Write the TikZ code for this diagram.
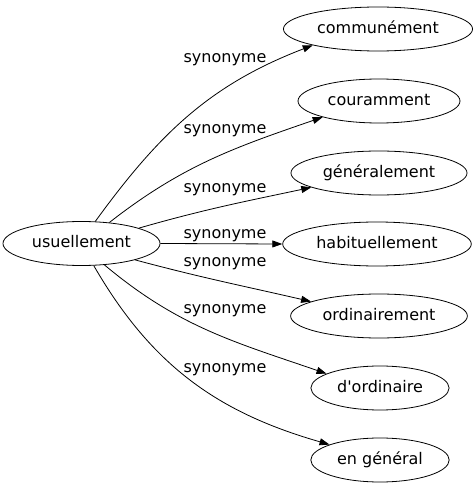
\documentclass[tikz,border=0pt]{standalone}
\usepackage{fontspec}
\setmainfont{DejaVu Sans}
\usetikzlibrary{arrows.meta,shapes.geometric}

\begin{document}
\begin{tikzpicture}[x=1pt, y=1pt, font=\fontsize{16}{19}\selectfont,
  mot/.style={draw, ellipse, line width=0.8pt, inner xsep=6pt, inner ysep=0pt,
    minimum height=44pt, text height=12pt, text depth=3pt},
  syn/.style={line width=0.8pt, -{Triangle[length=10pt, width=7pt]}},
  lbl/.style={inner sep=0pt, text height=12pt, text depth=3pt}]
\useasboundingbox (0,0) rectangle (474,491);
% source
\node[mot] (usu) at (81.5,247.5) {usuellement};
% targets
\node[mot] (comm)  at (378,462) {communément};
\node[mot] (cour)  at (379,390) {couramment};
\node[mot] (gen)   at (379,318) {généralement};
\node[mot] (hab)   at (377,247) {habituellement};
\node[mot] (ord)   at (379,175) {ordinairement};
\node[mot] (dord)  at (380,103) {d\textquotesingle ordinaire};
\node[mot] (engen) at (380,31)  {en général};
% edges
\draw[syn] (usu.58)  to[out=54, in=201]  (comm.194);
\draw[syn] (usu.37)  to[out=38, in=199]  (cour.196);
\draw[syn] (usu.15)  to[out=16, in=192]  (gen.192);
\draw[syn] (usu.east) -- (hab.west);
\draw[syn] (usu.-17) to[out=-15, in=167] (ord.168);
\draw[syn] (usu.-43) to[out=-40, in=161] (dord.165);
\draw[syn] (usu.-61) to[out=-60, in=164] (engen.163);
% labels
\node[lbl] (lcomm)  at (225,433) {synonyme};
\node[lbl] (lcour)  at (225,362) {synonyme};
\node[lbl] (lgen)   at (225,303) {synonyme};
\node[lbl] (lhab)   at (225,257) {synonyme};
\node[lbl] (lord)   at (225,229) {synonyme};
\node[lbl] (ldord)  at (225,182) {synonyme};
\node[lbl] (lengen) at (225,123) {synonyme};
\end{tikzpicture}
\end{document}
